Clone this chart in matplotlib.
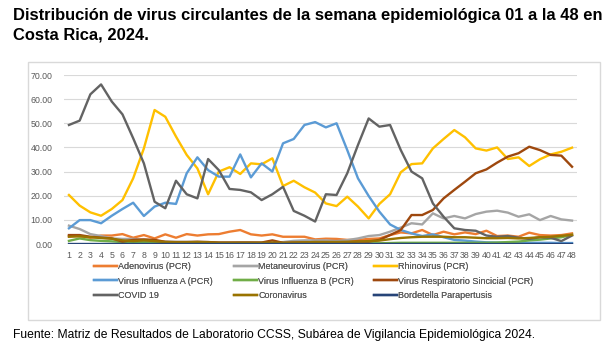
import matplotlib
matplotlib.use("Agg")
import matplotlib.pyplot as plt
from matplotlib.patches import Rectangle
from matplotlib import font_manager as fm

weeks = list(range(1, 49))

adenovirus = [3.3, 3.3, 2.6, 3.5, 3.5, 4.1, 2.6, 3.7, 2.3, 4.0, 2.6, 4.1, 3.5, 4.0, 4.1, 5.1, 5.8, 4.0, 3.5, 4.0,
              3.0, 3.0, 3.0, 1.9, 2.2, 2.1, 1.7, 1.7, 2.1, 2.3, 3.7, 4.8, 4.4, 5.8, 3.7, 5.1, 4.0, 4.8, 4.1, 5.5,
              3.3, 3.5, 3.0, 4.7, 3.7, 3.5, 3.7, 4.4]
metaneurovirus = [7.6, 6.2, 4.1, 3.3, 2.3, 2.1, 2.1, 1.7, 1.4, 1.0, 0.9, 0.9, 0.9, 0.8, 0.6, 0.6, 0.7, 0.7, 0.6, 0.6,
                  0.8, 1.3, 1.5, 1.5, 1.5, 1.2, 1.6, 2.3, 3.3, 3.7, 5.1, 6.8, 8.6, 8.1, 12.7, 10.6, 11.6, 10.6, 12.4, 13.4,
                  13.8, 13.0, 11.3, 12.3, 9.9, 11.6, 10.2, 9.7]
rhinovirus = [20.3, 15.9, 13.1, 11.7, 14.5, 18.2, 27.2, 39.6, 55.5, 52.7, 44.5, 36.9, 31.3, 20.6, 30.0, 31.8, 29.0, 33.4, 33.0, 35.5,
              24.0, 26.2, 23.5, 21.3, 16.8, 15.7, 19.6, 15.5, 10.6, 16.6, 20.6, 29.7, 33.1, 33.4, 39.6, 43.5, 47.2, 44.2, 39.6, 38.7,
              40.0, 35.2, 35.9, 32.3, 35.1, 37.1, 38.2, 39.9]
influenza_a = [6.5, 9.9, 9.9, 8.6, 11.7, 14.5, 17.1, 11.6, 15.5, 17.1, 16.6, 29.3, 35.9, 30.6, 27.9, 27.9, 37.1, 27.6, 33.4, 30.0,
               41.7, 43.5, 49.3, 50.5, 48.3, 50.0, 38.9, 27.2, 19.9, 13.4, 8.1, 5.8, 4.4, 3.3, 4.0, 2.8, 1.7, 1.4, 1.0, 0.7,
               0.6, 0.6, 0.5, 0.5, 0.5, 0.5, 0.4, 0.4]
influenza_b = [1.3, 2.3, 1.6, 1.3, 1.1, 0.8, 0.6, 0.8, 0.5, 0.3, 0.3, 0.3, 0.3, 0.3, 0.2, 0.2, 0.2, 0.2, 0.2, 0.2,
               0.2, 0.2, 0.2, 0.2, 0.2, 0.2, 0.2, 0.2, 0.3, 0.3, 0.4, 0.5, 0.5, 0.5, 0.5, 0.5, 0.5, 0.5, 0.5, 0.5,
               0.6, 0.8, 1.0, 1.5, 1.8, 2.3, 2.8, 3.8]
rsv = [3.7, 3.7, 3.0, 2.6, 2.3, 1.0, 1.7, 1.9, 1.7, 0.9, 0.8, 0.8, 0.9, 0.8, 0.6, 0.6, 0.6, 0.6, 0.6, 1.5,
       0.5, 0.6, 0.7, 0.8, 0.8, 0.8, 0.8, 1.0, 1.0, 1.7, 3.7, 5.8, 12.0, 12.0, 14.1, 18.9, 22.4, 25.8, 29.3, 30.9,
       33.7, 36.2, 37.6, 40.3, 38.9, 36.9, 36.6, 32.0]
covid19 = [49.3, 51.1, 62.0, 66.1, 59.0, 53.7, 43.8, 33.4, 17.5, 14.8, 26.2, 20.6, 18.9, 35.2, 30.6, 22.8, 22.4, 21.4, 18.2, 20.6,
           23.7, 13.7, 11.7, 9.3, 20.6, 20.3, 29.3, 41.0, 52.0, 48.6, 49.3, 38.9, 30.0, 27.2, 16.8, 11.3, 6.5, 5.8, 5.5, 3.5,
           3.0, 3.3, 2.6, 2.1, 2.8, 2.6, 1.2, 3.5]
coronavirus = [3.0, 3.2, 2.8, 2.5, 2.2, 1.5, 1.2, 1.5, 1.2, 0.8, 0.7, 0.7, 0.8, 0.7, 0.5, 0.5, 0.5, 0.5, 0.5, 0.6,
               0.5, 0.6, 0.7, 0.8, 0.8, 0.8, 0.9, 1.0, 1.2, 1.4, 2.0, 2.5, 2.8, 3.0, 3.0, 3.0, 2.8, 2.8, 2.6, 2.4,
               2.4, 2.5, 2.3, 2.5, 2.8, 3.0, 3.4, 3.8]
bordetella = [0.1] * 48

series_names = ["Adenovirus (PCR)", "Metaneurovirus (PCR)", "Rhinovirus (PCR)",
                "Virus Influenza A (PCR)", "Virus Influenza B (PCR)", "Virus Respiratorio Sincicial (PCR)",
                "COVID 19", "Coronavirus", "Bordetella Parapertusis"]
series_values = [adenovirus, metaneurovirus, rhinovirus, influenza_a, influenza_b, rsv,
                 covid19, coronavirus, bordetella]
colors = ["#ED7D31", "#A5A5A5", "#FFC000", "#5B9BD5", "#70AD47", "#9E480E",
          "#636363", "#997300", "#264478"]

title_text = "Distribución de virus circulantes de la semana epidemiológica 01 a la 48 en\nCosta Rica, 2024."
source_text = "Fuente: Matriz de Resultados de Laboratorio CCSS, Subárea de Vigilancia Epidemiológica 2024."

names = {f.name for f in fm.fontManager.ttflist}
narrow = "Liberation Sans Narrow" if "Liberation Sans Narrow" in names else "Liberation Sans"

W, H = 615, 362
fig = plt.figure(figsize=(W / 100, H / 100), dpi=100)
fig.patch.set_facecolor("white")

# outer chart frame
fig.patches.append(Rectangle((28 / W, 1 - 320 / H), (600 - 28) / W, (320 - 62) / H,
                             transform=fig.transFigure, fill=False, edgecolor="#D9D9D9", linewidth=1.0))

ax = fig.add_axes([63.6 / W, 1 - 244 / H, 513.8 / W, 169 / H])
lines = []
for name, vals, c in zip(series_names, series_values, colors):
    ln, = ax.plot(weeks, vals, color=c, linewidth=1.7, label=name, solid_joinstyle="round")
    lines.append(ln)

ax.set_xlim(0.5, 48.5)
ax.set_ylim(0, 70)
ax.set_yticks(range(0, 71, 10))
ax.set_yticklabels([f"{v:.2f}" for v in range(0, 71, 10)])
ax.set_xticks(weeks)
ax.set_xticklabels([str(w) for w in weeks])
ax.tick_params(axis="both", length=0, labelsize=6.3, labelcolor="#595959", pad=5)
ax.tick_params(axis="y", pad=8)
for s in ax.spines.values():
    s.set_visible(False)
ax.grid(axis="y", color="#D9D9D9", linewidth=0.8)
ax.set_axisbelow(True)
for lbl in ax.get_xticklabels() + ax.get_yticklabels():
    lbl.set_fontfamily("Liberation Sans")

# legend: three columns, laid out row-wise (one legend per column)
col_x = [94, 234, 374]
for ci in range(3):
    hs = [lines[r * 3 + ci] for r in range(3)]
    leg = fig.legend(hs, [h.get_label() for h in hs], loc="upper left",
                     bbox_to_anchor=(col_x[ci] / W, 1 - 262 / H),
                     frameon=False, handlelength=2.6, handletextpad=0.1,
                     labelspacing=0.62, borderaxespad=0, borderpad=0,
                     prop={"family": "Liberation Sans", "size": 6.5})
    for t in leg.get_texts():
        t.set_color("#595959")
    fig.add_artist(leg)

fig.text(13 / W, 1 - 8 / H, title_text, ha="left", va="top", fontsize=11.9, fontweight="bold",
         family=narrow, linespacing=1.35, color="black")
fig.text(13 / W, 1 - 335 / H, source_text, ha="left", va="center", fontsize=8.7,
         family=narrow, color="black")

fig.savefig("out.png", dpi=100)
